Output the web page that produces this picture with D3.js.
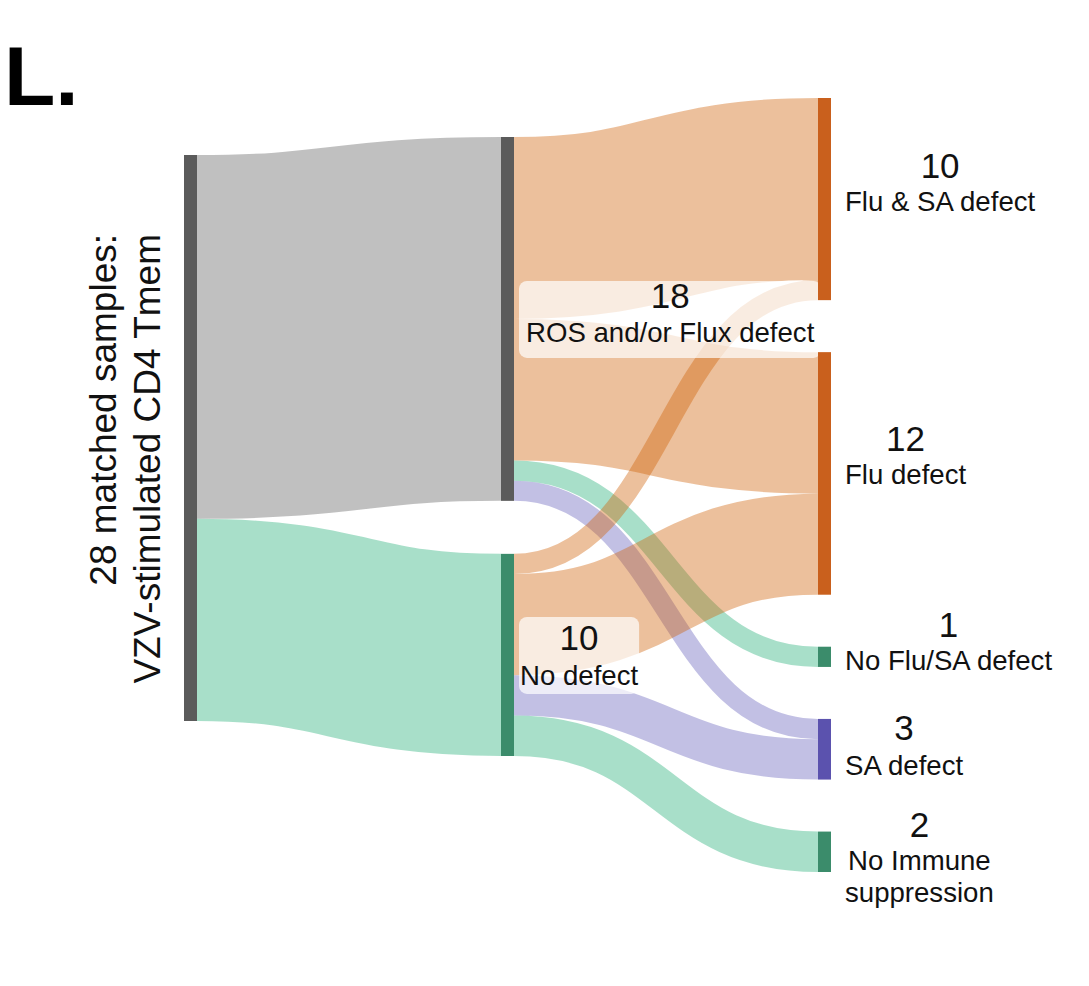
<!DOCTYPE html>
<html>
<head>
<meta charset="utf-8">
<script src="https://cdn.jsdelivr.net/npm/d3@7"></script>
<style>
  html, body { margin: 0; padding: 0; background: #ffffff; }
  svg { display: block; font-family: "Liberation Sans", Arial, Helvetica, sans-serif; }
</style>
</head>
<body>
<svg id="chart" width="1089" height="986"></svg>
<script>
// ---------------- data ----------------
const nodeNames = [
  "28 matched samples:|VZV-stimulated CD4 Tmem",
  "ROS and/or Flux defect",
  "No defect",
  "Flu & SA defect",
  "Flu defect",
  "No Flu/SA defect",
  "SA defect",
  "No Immune|suppression"
];
const nodeColumns = [0, 1, 1, 2, 2, 2, 2, 2];
const nodeColorKeys = ["gray", "gray", "green", "orange", "orange", "green", "purple", "green"];

const linkSources = [0, 0, 1, 1, 1, 1, 2, 2, 2, 2];
const linkTargets = [1, 2, 3, 4, 5, 6, 3, 4, 6, 7];
const linkValues  = [18, 10, 9, 7, 1, 1, 1, 5, 2, 2];

// ---------------- styles / layout ----------------
const nodeColors = { gray: "#5b5b5b", green: "#3b8c6b", orange: "#c9601d", purple: "#5b52ae" };
const linkColors = { gray: "#616161", green: "#25af78", orange: "#cf6108", purple: "#6661bb" };
const linkOpacity = 0.4;

const columnTop = [155, 137, 98];
const columnGap = [0, 53, 52];
const nodeWidth = 13;

// label offsets relative to node vertical centre: [number baseline, line baselines...]
const labelLayout = {
  1: { num: -11, lines: [23], pad: 7 },
  2: { num: -5, lines: [30], pad: 1 },
  3: { num: -21, lines: [12] },
  4: { num: -22, lines: [11] },
  5: { num: -20, lines: [13] },
  6: { num: -9, lines: [26] },
  7: { num: -15, lines: [18, 50] }
};

const svg = d3.select("#chart");

const x = d3.scaleLinear().domain([0, 2]).range([184, 818]);
const k = d3.scaleLinear().domain([0, 28]).range([0, 566]);

// ---------------- manual sankey layout ----------------
const nodes = nodeNames.map((name, i) => ({
  index: i, name, col: nodeColumns[i], colorKey: nodeColorKeys[i],
  inV: 0, outV: 0, sourceLinks: [], targetLinks: []
}));
const links = linkValues.map((v, i) => ({
  source: nodes[linkSources[i]], target: nodes[linkTargets[i]], value: v
}));
links.forEach(l => {
  l.source.outV += l.value; l.target.inV += l.value;
  l.source.sourceLinks.push(l); l.target.targetLinks.push(l);
});
nodes.forEach(n => { n.value = Math.max(n.inV, n.outV); });

[0, 1, 2].forEach(c => {
  let y = columnTop[c];
  nodes.filter(n => n.col === c).forEach(n => {
    n.x0 = x(c); n.x1 = x(c) + nodeWidth;
    n.y0 = y; n.y1 = y + k(n.value);
    y = n.y1 + columnGap[c];
  });
});
nodes.forEach(n => {
  let sy = n.y0;
  n.sourceLinks.slice().sort((a, b) => a.target.index - b.target.index).forEach(l => {
    l.width = k(l.value); l.sy = sy + l.width / 2; sy += l.width;
  });
  let ty = n.y0;
  n.targetLinks.slice().sort((a, b) => a.source.index - b.source.index).forEach(l => {
    l.ty = ty + k(l.value) / 2; ty += k(l.value);
  });
});

// ---------------- title ----------------
svg.append("text")
  .attr("x", 4).attr("y", 105)
  .attr("font-size", 84).attr("font-weight", "bold")
  .attr("fill", "#000")
  .text("L.");

// ---------------- links ----------------
const linkGen = d3.linkHorizontal()
  .source(d => [d.source.x1, d.sy])
  .target(d => [d.target.x0, d.ty]);

svg.append("g").selectAll("path")
  .data(links)
  .join("path")
  .attr("d", linkGen)
  .attr("fill", "none")
  .attr("stroke", d => linkColors[d.target.colorKey])
  .attr("stroke-opacity", linkOpacity)
  .attr("stroke-width", d => d.width);

// ---------------- middle label boxes ----------------
const midG = svg.append("g");
nodes.filter(n => n.col === 1).forEach(n => {
  const cy = (n.y0 + n.y1) / 2;
  const L = labelLayout[n.index];
  const g = midG.append("g");
  const box = g.append("rect");
  const lab = g.append("text")
    .attr("y", cy + L.lines[0])
    .attr("font-size", 27.6).attr("fill", "#111")
    .attr("text-anchor", "middle")
    .text(n.name);
  const w = lab.node().getComputedTextLength();
  const bx = n.x1 + 5;
  const bw = w + 2 * L.pad;
  const cx = bx + bw / 2;
  lab.attr("x", cx);
  box.attr("x", bx).attr("y", cy - 38).attr("width", bw).attr("height", 77)
    .attr("rx", 8).attr("fill", "#ffffff").attr("fill-opacity", 0.7);
  g.append("text")
    .attr("x", cx).attr("y", cy + L.num)
    .attr("font-size", 35).attr("fill", "#111")
    .attr("text-anchor", "middle")
    .text(n.value);
});

// ---------------- nodes ----------------
svg.append("g").selectAll("rect")
  .data(nodes)
  .join("rect")
  .attr("x", d => d.x0)
  .attr("y", d => d.y0)
  .attr("width", d => d.x1 - d.x0)
  .attr("height", d => d.y1 - d.y0)
  .attr("fill", d => nodeColors[d.colorKey]);

// ---------------- right labels ----------------
const rightG = svg.append("g");
nodes.filter(n => n.col === 2).forEach(n => {
  const cy = (n.y0 + n.y1) / 2;
  const L = labelLayout[n.index];
  const lx = n.x1 + 14;
  const parts = n.name.split("|");
  const texts = parts.map((p, i) => rightG.append("text")
    .attr("y", cy + L.lines[i])
    .attr("font-size", 27.6).attr("fill", "#111")
    .attr("text-anchor", "middle")
    .text(p));
  const maxW = d3.max(texts, t => t.node().getComputedTextLength());
  const cx = lx + maxW / 2;
  texts.forEach(t => t.attr("x", cx));
  rightG.append("text")
    .attr("x", cx).attr("y", cy + L.num)
    .attr("font-size", 35).attr("fill", "#111")
    .attr("text-anchor", "middle")
    .text(n.value);
});

// ---------------- left rotated label ----------------
const left = nodes[0];
const leftLines = left.name.split("|");
const leftBaselines = [116, 160];
leftLines.forEach((p, i) => {
  svg.append("text")
    .attr("transform", `translate(${leftBaselines[i]},234) rotate(-90)`)
    .attr("text-anchor", "end")
    .attr("font-size", 37).attr("fill", "#111")
    .text(p);
});
</script>
</body>
</html>
